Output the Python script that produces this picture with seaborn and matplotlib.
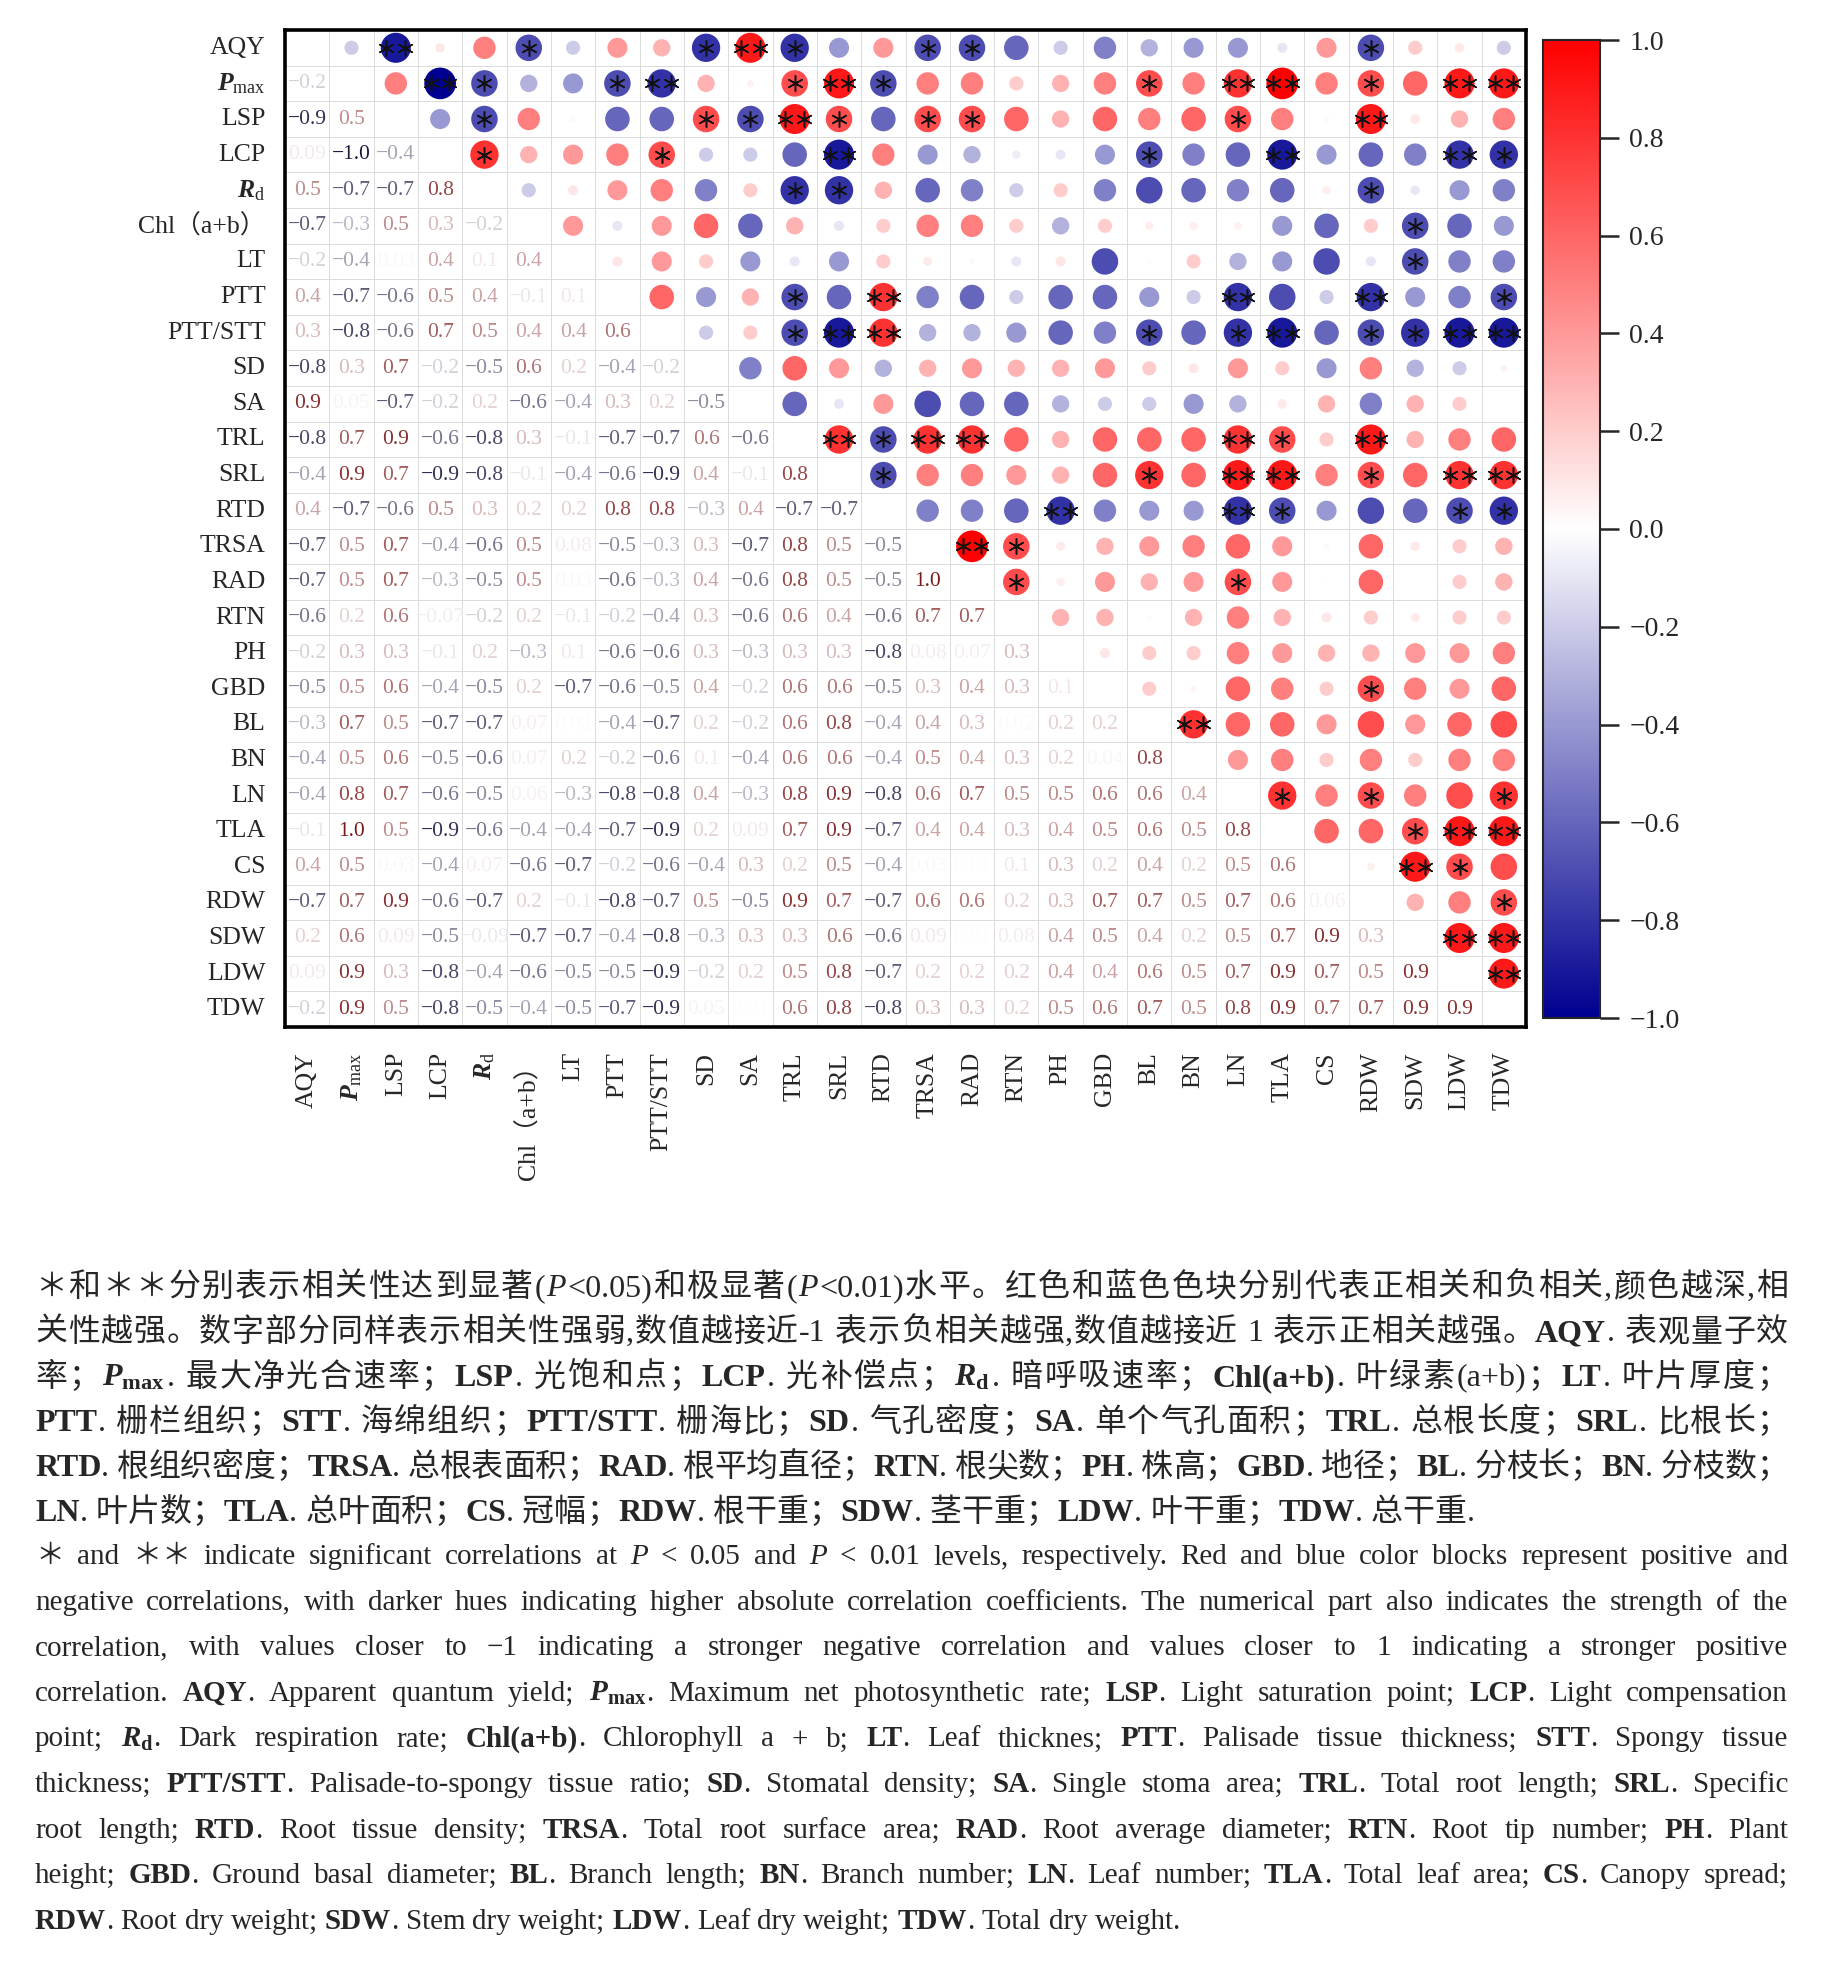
import re
import numpy as np
import pandas as pd
import matplotlib
matplotlib.use("Agg")
import matplotlib.pyplot as plt
import seaborn as sns
from matplotlib.colors import LinearSegmentedColormap, ListedColormap, Normalize
from matplotlib.cm import ScalarMappable
from matplotlib.ticker import FuncFormatter

sns.set_style("white")
plt.rcParams['font.family'] = ['Liberation Serif', 'Noto Sans CJK SC']
plt.rcParams['mathtext.fontset'] = 'custom'
plt.rcParams['mathtext.rm'] = 'Liberation Serif'
plt.rcParams['mathtext.it'] = 'Liberation Serif:italic'
plt.rcParams['mathtext.bf'] = 'Liberation Serif:bold'
plt.rcParams['mathtext.bfit'] = 'Liberation Serif:bold:italic'

# ---- data -------------------------------------------------------------
traits = ["AQY", "Pmax", "LSP", "LCP", "Rd", "Chl", "LT", "PTT", "PTT/STT",
          "SD", "SA", "TRL", "SRL", "RTD", "TRSA", "RAD", "RTN", "PH", "GBD",
          "BL", "BN", "LN", "TLA", "CS", "RDW", "SDW", "LDW", "TDW"]
tick_labels = ["AQY", r"$\mathbfit{P}_{\mathrm{max}}$", "LSP", "LCP",
               r"$\mathbfit{R}_{\mathrm{d}}$", "Chl（a+b）", "LT", "PTT",
               "PTT/STT", "SD", "SA", "TRL", "SRL", "RTD", "TRSA", "RAD", "RTN",
               "PH", "GBD", "BL", "BN", "LN", "TLA", "CS", "RDW", "SDW", "LDW",
               "TDW"]

# lower triangle, row by row (row i holds r with columns 0..i-1)
lower = [
    [],
    [-0.2],
    [-0.9, 0.5],
    [0.09, -1.0, -0.4],
    [0.5, -0.7, -0.7, 0.8],
    [-0.7, -0.3, 0.5, 0.3, -0.2],
    [-0.2, -0.4, 0.03, 0.4, 0.1, 0.4],
    [0.4, -0.7, -0.6, 0.5, 0.4, -0.1, 0.1],
    [0.3, -0.8, -0.6, 0.7, 0.5, 0.4, 0.4, 0.6],
    [-0.8, 0.3, 0.7, -0.2, -0.5, 0.6, 0.2, -0.4, -0.2],
    [0.9, 0.05, -0.7, -0.2, 0.2, -0.6, -0.4, 0.3, 0.2, -0.5],
    [-0.8, 0.7, 0.9, -0.6, -0.8, 0.3, -0.1, -0.7, -0.7, 0.6, -0.6],
    [-0.4, 0.9, 0.7, -0.9, -0.8, -0.1, -0.4, -0.6, -0.9, 0.4, -0.1, 0.8],
    [0.4, -0.7, -0.6, 0.5, 0.3, 0.2, 0.2, 0.8, 0.8, -0.3, 0.4, -0.7, -0.7],
    [-0.7, 0.5, 0.7, -0.4, -0.6, 0.5, 0.08, -0.5, -0.3, 0.3, -0.7, 0.8, 0.5, -0.5],
    [-0.7, 0.5, 0.7, -0.3, -0.5, 0.5, 0.03, -0.6, -0.3, 0.4, -0.6, 0.8, 0.5, -0.5, 1.0],
    [-0.6, 0.2, 0.6, -0.07, -0.2, 0.2, -0.1, -0.2, -0.4, 0.3, -0.6, 0.6, 0.4, -0.6, 0.7, 0.7],
    [-0.2, 0.3, 0.3, -0.1, 0.2, -0.3, 0.1, -0.6, -0.6, 0.3, -0.3, 0.3, 0.3, -0.8, 0.08, 0.07, 0.3],
    [-0.5, 0.5, 0.6, -0.4, -0.5, 0.2, -0.7, -0.6, -0.5, 0.4, -0.2, 0.6, 0.6, -0.5, 0.3, 0.4, 0.3, 0.1],
    [-0.3, 0.7, 0.5, -0.7, -0.7, 0.07, 0.02, -0.4, -0.7, 0.2, -0.2, 0.6, 0.8, -0.4, 0.4, 0.3, 0.02, 0.2, 0.2],
    [-0.4, 0.5, 0.6, -0.5, -0.6, 0.07, 0.2, -0.2, -0.6, 0.1, -0.4, 0.6, 0.6, -0.4, 0.5, 0.4, 0.3, 0.2, 0.04, 0.8],
    [-0.4, 0.8, 0.7, -0.6, -0.5, 0.06, -0.3, -0.8, -0.8, 0.4, -0.3, 0.8, 0.9, -0.8, 0.6, 0.7, 0.5, 0.5, 0.6, 0.6, 0.4],
    [-0.1, 1.0, 0.5, -0.9, -0.6, -0.4, -0.4, -0.7, -0.9, 0.2, 0.09, 0.7, 0.9, -0.7, 0.4, 0.4, 0.3, 0.4, 0.5, 0.6, 0.5, 0.8],
    [0.4, 0.5, 0.03, -0.4, 0.07, -0.6, -0.7, -0.2, -0.6, -0.4, 0.3, 0.2, 0.5, -0.4, 0.03, 0.01, 0.1, 0.3, 0.2, 0.4, 0.2, 0.5, 0.6],
    [-0.7, 0.7, 0.9, -0.6, -0.7, 0.2, -0.1, -0.8, -0.7, 0.5, -0.5, 0.9, 0.7, -0.7, 0.6, 0.6, 0.2, 0.3, 0.7, 0.7, 0.5, 0.7, 0.6, 0.06],
    [0.2, 0.6, 0.09, -0.5, -0.09, -0.7, -0.7, -0.4, -0.8, -0.3, 0.3, 0.3, 0.6, -0.6, 0.09, 0.01, 0.08, 0.4, 0.5, 0.4, 0.2, 0.5, 0.7, 0.9, 0.3],
    [0.09, 0.9, 0.3, -0.8, -0.4, -0.6, -0.5, -0.5, -0.9, -0.2, 0.2, 0.5, 0.8, -0.7, 0.2, 0.2, 0.2, 0.4, 0.4, 0.6, 0.5, 0.7, 0.9, 0.7, 0.5, 0.9],
    [-0.2, 0.9, 0.5, -0.8, -0.5, -0.4, -0.5, -0.7, -0.9, 0.05, 0.01, 0.6, 0.8, -0.8, 0.3, 0.3, 0.2, 0.5, 0.6, 0.7, 0.5, 0.8, 0.9, 0.7, 0.7, 0.9, 0.9],
]

# significance marks in the upper triangle (row trait, column trait)
sig_05 = [("AQY", "Chl"), ("AQY", "SD"), ("AQY", "TRL"), ("AQY", "TRSA"), ("AQY", "RAD"), ("AQY", "RDW"),
          ("Pmax", "Rd"), ("Pmax", "PTT"), ("Pmax", "TRL"), ("Pmax", "RTD"), ("Pmax", "BL"), ("Pmax", "RDW"),
          ("LSP", "Rd"), ("LSP", "SD"), ("LSP", "SA"), ("LSP", "SRL"), ("LSP", "TRSA"), ("LSP", "RAD"), ("LSP", "LN"),
          ("LCP", "Rd"), ("LCP", "PTT/STT"), ("LCP", "BL"), ("LCP", "TDW"),
          ("Rd", "TRL"), ("Rd", "SRL"), ("Rd", "RDW"),
          ("Chl", "SDW"), ("LT", "SDW"),
          ("PTT", "TRL"), ("PTT", "TDW"),
          ("PTT/STT", "TRL"), ("PTT/STT", "BL"), ("PTT/STT", "LN"), ("PTT/STT", "RDW"), ("PTT/STT", "SDW"),
          ("TRL", "RTD"), ("TRL", "TLA"),
          ("SRL", "RTD"), ("SRL", "BL"), ("SRL", "RDW"),
          ("RTD", "TLA"), ("RTD", "LDW"), ("RTD", "TDW"),
          ("TRSA", "RTN"), ("RAD", "RTN"), ("RAD", "LN"), ("GBD", "RDW"),
          ("LN", "TLA"), ("LN", "RDW"), ("LN", "TDW"),
          ("TLA", "SDW"), ("CS", "LDW"), ("RDW", "TDW")]
sig_01 = [("AQY", "LSP"), ("AQY", "SA"),
          ("Pmax", "LCP"), ("Pmax", "PTT/STT"), ("Pmax", "SRL"), ("Pmax", "LN"), ("Pmax", "TLA"),
          ("Pmax", "LDW"), ("Pmax", "TDW"),
          ("LSP", "TRL"), ("LSP", "RDW"),
          ("LCP", "SRL"), ("LCP", "TLA"), ("LCP", "LDW"),
          ("PTT", "RTD"), ("PTT", "LN"), ("PTT", "RDW"),
          ("PTT/STT", "SRL"), ("PTT/STT", "RTD"), ("PTT/STT", "TLA"), ("PTT/STT", "LDW"), ("PTT/STT", "TDW"),
          ("TRL", "SRL"), ("TRL", "TRSA"), ("TRL", "RAD"), ("TRL", "LN"), ("TRL", "RDW"),
          ("SRL", "LN"), ("SRL", "TLA"), ("SRL", "LDW"), ("SRL", "TDW"),
          ("RTD", "PH"), ("RTD", "LN"),
          ("TRSA", "RAD"), ("BL", "BN"),
          ("TLA", "LDW"), ("TLA", "TDW"), ("CS", "SDW"),
          ("SDW", "LDW"), ("SDW", "TDW"), ("LDW", "TDW")]

# ---- matrix -------------------------------------------------------------
n = len(traits)
corr = np.eye(n)
for i, row in enumerate(lower):
    assert len(row) == i
    for j, v in enumerate(row):
        corr[i, j] = corr[j, i] = v
corr_df = pd.DataFrame(corr, index=traits, columns=traits)
pos = {t: k for k, t in enumerate(traits)}


def fmt(v):
    s = f"{v:.2f}" if abs(v) < 0.1 else f"{v:.1f}"
    return s.replace("-", "\u2212")


annot = np.full((n, n), "", dtype=object)
for i in range(n):
    for j in range(i):
        annot[i, j] = fmt(corr[i, j])

cmap = LinearSegmentedColormap.from_list("bwr2", ["#000090", "#ffffff", "#ff0000"])

W, H = 1825, 1963
fig = plt.figure(figsize=(W / 100, H / 100), dpi=100)
ax = fig.add_axes([285 / W, 1 - 1027 / H, (1526 - 285) / W, (1027 - 30) / H])
cax = fig.add_axes([1543 / W, 1 - 1018 / H, 57 / W, (1018 - 40) / H])

sns.heatmap(corr_df, annot=annot, fmt="", cmap=ListedColormap(["white"]), cbar=False,
            linewidths=0.7, linecolor="#dcdcdc", xticklabels=tick_labels,
            yticklabels=tick_labels, annot_kws={"fontsize": 15.5}, ax=ax)

# text colour fades with |r|
neg_base = np.array([0.10, 0.10, 0.25])
pos_base = np.array([0.48, 0.10, 0.10])
for t in ax.texts:
    x, y = t.get_position()
    i, j = int(y), int(x)
    if i <= j:
        continue
    v = corr[i, j]
    a = min(abs(v), 1.0)
    base = pos_base if v > 0 else neg_base
    t.set_color(tuple((1 - a) * np.ones(3) + a * base))
    t.set_fontfamily(["Liberation Serif"])

# circles in the upper triangle
iu = np.triu_indices(n, 1)
up = pd.DataFrame({"x": iu[1] + 0.5, "y": iu[0] + 0.5, "r": corr[iu]})
up["absr"] = up["r"].abs()
sns.scatterplot(data=up, x="x", y="y", hue="r", size="absr", palette=cmap,
                hue_norm=(-1, 1), sizes=(0, 520), size_norm=(0, 1),
                linewidth=0, legend=False, ax=ax, zorder=3)

# significance asterisks
for pairs, offs in [(sig_05, [0.0]), (sig_01, [-0.21, 0.21])]:
    xs, ys = [], []
    for a_, b_ in pairs:
        i, j = sorted((pos[a_], pos[b_]))
        for o in offs:
            xs.append(j + 0.5 + o)
            ys.append(i + 0.5)
    ax.scatter(xs, ys, marker=(6, 2, 0), s=125, color="#111111", linewidths=1.1, zorder=4)

ax.set_xlim(0, n)
ax.set_ylim(n, 0)
ax.set_xlabel("")
ax.set_ylabel("")
ax.set_xticks(np.arange(n) + 0.5)
ax.set_yticks(np.arange(n) + 0.5)
ax.set_xticklabels(tick_labels, rotation=90, va="top", ha="center")
ax.set_yticklabels(tick_labels, rotation=0, va="center", ha="right")
ax.tick_params(axis="x", length=0, pad=18)
ax.tick_params(axis="y", length=0, pad=14)
for lab in ax.get_xticklabels() + ax.get_yticklabels():
    lab.set_fontsize(18.5)
    lab.set_fontfamily(["Liberation Serif", "Noto Sans CJK SC"])
for s in ax.spines.values():
    s.set_visible(True)
    s.set_linewidth(2.6)
    s.set_color("black")

cb = fig.colorbar(ScalarMappable(norm=Normalize(-1, 1), cmap=cmap), cax=cax)
cb.set_ticks(np.round(np.arange(-1, 1.01, 0.2), 1))
cb.ax.yaxis.set_major_formatter(FuncFormatter(lambda v, p: f"{round(v, 1) + 0.0:.1f}".replace("-", "\u2212")))
cb.outline.set_linewidth(1.5)
cax.tick_params(length=14, width=1.8, labelsize=20, pad=7)
for lab in cax.get_yticklabels():
    lab.set_fontfamily(["Liberation Serif"])

# ---- caption ---------------------------------------------------------------
zh_lines = [
    "＊和＊＊分别表示相关性达到显著(<i>P</i><0.05)和极显著(<i>P</i><0.01)水平。红色和蓝色色块分别代表正相关和负相关,颜色越深,相",
    "关性越强。数字部分同样表示相关性强弱,数值越接近-1 表示负相关越强,数值越接近 1 表示正相关越强。<b>AQY</b>. 表观量子效",
    r"率；<m>$\mathbfit{P}_{\mathbf{max}}$</m>. 最大净光合速率；<b>LSP</b>. 光饱和点；<b>LCP</b>. 光补偿点；<m>$\mathbfit{R}_{\mathbf{d}}$</m>. 暗呼吸速率；<b>Chl(a+b)</b>. 叶绿素(a+b)；<b>LT</b>. 叶片厚度；",
    "<b>PTT</b>. 栅栏组织；<b>STT</b>. 海绵组织；<b>PTT/STT</b>. 栅海比；<b>SD</b>. 气孔密度；<b>SA</b>. 单个气孔面积；<b>TRL</b>. 总根长度；<b>SRL</b>. 比根长；",
    "<b>RTD</b>. 根组织密度；<b>TRSA</b>. 总根表面积；<b>RAD</b>. 根平均直径；<b>RTN</b>. 根尖数；<b>PH</b>. 株高；<b>GBD</b>. 地径；<b>BL</b>. 分枝长；<b>BN</b>. 分枝数；",
    "<b>LN</b>. 叶片数；<b>TLA</b>. 总叶面积；<b>CS</b>. 冠幅；<b>RDW</b>. 根干重；<b>SDW</b>. 茎干重；<b>LDW</b>. 叶干重；<b>TDW</b>. 总干重.",
]
en_lines = [
    "＊ and ＊＊ indicate significant correlations at <i>P</i> < 0.05 and <i>P</i> < 0.01 levels, respectively. Red and blue color blocks represent positive and",
    "negative correlations, with darker hues indicating higher absolute correlation coefficients. The numerical part also indicates the strength of the",
    "correlation, with values closer to \u22121 indicating a stronger negative correlation and values closer to 1 indicating a stronger positive",
    r"correlation. <b>AQY</b>. Apparent quantum yield; <m>$\mathbfit{P}_{\mathbf{max}}$</m>. Maximum net photosynthetic rate; <b>LSP</b>. Light saturation point; <b>LCP</b>. Light compensation",
    r"point; <m>$\mathbfit{R}_{\mathbf{d}}$</m>. Dark respiration rate; <b>Chl(a+b)</b>. Chlorophyll a + b; <b>LT</b>. Leaf thicknes; <b>PTT</b>. Palisade tissue thickness; <b>STT</b>. Spongy tissue",
    "thickness; <b>PTT/STT</b>. Palisade-to-spongy tissue ratio; <b>SD</b>. Stomatal density; <b>SA</b>. Single stoma area; <b>TRL</b>. Total root length; <b>SRL</b>. Specific",
    "root length; <b>RTD</b>. Root tissue density; <b>TRSA</b>. Total root surface area; <b>RAD</b>. Root average diameter; <b>RTN</b>. Root tip number; <b>PH</b>. Plant",
    "height; <b>GBD</b>. Ground basal diameter; <b>BL</b>. Branch length; <b>BN</b>. Branch number; <b>LN</b>. Leaf number; <b>TLA</b>. Total leaf area; <b>CS</b>. Canopy spread;",
    "<b>RDW</b>. Root dry weight; <b>SDW</b>. Stem dry weight; <b>LDW</b>. Leaf dry weight; <b>TDW</b>. Total dry weight.",
]

FAM = ["Liberation Serif", "Noto Sans CJK SC"]
STY = {"r": {}, "b": {"weight": "bold"}, "i": {"style": "italic"}, "m": {}}
CJK = "\u2e80-\u9fff\u3000-\u303f\uff00-\uffef"
tok_re = re.compile(rf"\s+|[{CJK}]|[^\s{CJK}]+")
renderer = fig.canvas.get_renderer()
space_w = {}


def parse(line):
    segs, p = [], 0
    for m in re.finditer(r"<(b|i|m)>(.*?)</\1>", line):
        if m.start() > p:
            segs.append(("r", line[p:m.start()]))
        segs.append((m.group(1), m.group(2)))
        p = m.end()
    if p < len(line):
        segs.append(("r", line[p:]))
    return segs


def measure(s, sty, size):
    t = fig.text(0, 0, s, fontsize=size, family=FAM, **STY[sty])
    w = t.get_window_extent(renderer).width
    t.remove()
    return w


def caption_line(line, ybase, size, mode, justify, x0=35, x1=1788):
    items = []
    for sty, txt in parse(line):
        parts = [txt] if sty == "m" else tok_re.findall(txt)
        for p in parts:
            if p.isspace():
                key = (sty, size)
                if key not in space_w:
                    space_w[key] = measure("n n", sty, size) - measure("nn", sty, size)
                items.append(["gap", None, space_w[key] * len(p)])
            else:
                t = fig.text(0, 1 - ybase / H, p, fontsize=size, family=FAM,
                             va="baseline", ha="left", **STY[sty])
                items.append(["tok", t, t.get_window_extent(renderer).width])
    natural = sum(it[2] for it in items)
    if mode == "en":
        nstretch = sum(1 for it in items if it[0] == "gap")
    else:
        nstretch = len(items) - 1
    extra = (x1 - x0 - natural) / max(nstretch, 1) if justify else 0.0
    x = x0
    for k, it in enumerate(items):
        if it[0] == "tok":
            it[1].set_x(x / W)
        x += it[2]
        if mode == "en" and it[0] == "gap":
            x += extra
        elif mode == "zh" and k < len(items) - 1:
            x += extra


for k, line in enumerate(zh_lines):
    caption_line(line, 1296 + 45 * k, 23, "zh", k < len(zh_lines) - 1)
for k, line in enumerate(en_lines):
    caption_line(line, 1564 + 45.6 * k, 21, "en", k < len(en_lines) - 1)

fig.savefig("out.png", dpi=100, facecolor="white")
